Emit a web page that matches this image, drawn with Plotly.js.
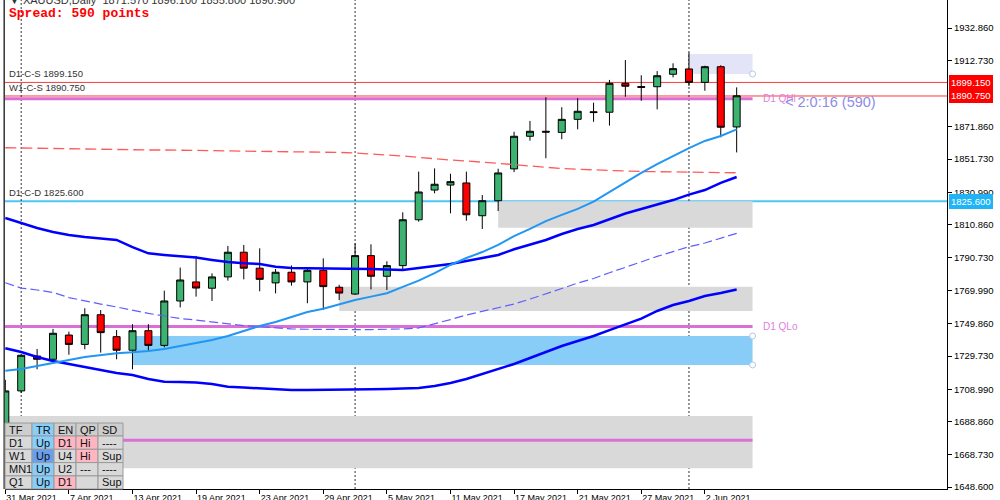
<!DOCTYPE html>
<html><head><meta charset="utf-8">
<script src="https://cdn.plot.ly/plotly-3.0.1.min.js"></script>
<style>html,body{margin:0;padding:0;background:#fff}#chart{width:1000px;height:500px}</style>
</head><body><div id="chart"></div>
<script>
// ---------- data ----------
const symbol = 'XAUUSD,Daily';
const spreadPoints = 590;
const timerText = '2:0:16 (590)';
const dates = ['2021-03-31','2021-04-01','2021-04-05','2021-04-06','2021-04-07','2021-04-08','2021-04-09','2021-04-12','2021-04-13','2021-04-14','2021-04-15','2021-04-16','2021-04-19','2021-04-20','2021-04-21','2021-04-22','2021-04-23','2021-04-26','2021-04-27','2021-04-28','2021-04-29','2021-04-30','2021-05-03','2021-05-04','2021-05-05','2021-05-06','2021-05-07','2021-05-10','2021-05-11','2021-05-12','2021-05-13','2021-05-14','2021-05-17','2021-05-18','2021-05-19','2021-05-20','2021-05-21','2021-05-24','2021-05-25','2021-05-26','2021-05-27','2021-05-28','2021-05-31','2021-06-01','2021-06-02','2021-06-03','2021-06-04'];
const open  = [1684.6,1708.1,1729.7,1727.7,1742.7,1736.9,1755.3,1741.7,1733.3,1745.4,1736.3,1763.8,1775.6,1771.7,1778.7,1794.0,1784.1,1775.0,1781.6,1775.6,1782.8,1772.3,1768.1,1791.9,1779.1,1785.7,1814.1,1832.5,1835.6,1836.9,1816.6,1825.9,1845.6,1865.8,1868.9,1868.2,1876.3,1881.0,1880.7,1898.6,1896.6,1896.5,1904.2,1907.5,1899.2,1908.9,1871.57];
const high  = [1715.0,1731.0,1734.1,1746.5,1744.8,1759.3,1758.2,1745.8,1749.4,1749.4,1770.2,1784.5,1791.7,1780.9,1797.9,1798.5,1796.4,1783.6,1785.8,1784.0,1790.2,1773.8,1799.5,1798.9,1788.4,1818.7,1843.9,1845.9,1842.6,1843.9,1829.4,1845.7,1868.6,1875.3,1890.0,1883.8,1889.4,1886.6,1900.7,1913.0,1903.6,1906.2,1911.0,1917.6,1909.5,1909.8,1896.1];
const low   = [1677.6,1706.8,1721.5,1727.0,1730.5,1733.9,1731.8,1727.7,1721.5,1733.1,1735.1,1759.8,1766.5,1763.8,1776.4,1777.2,1769.8,1768.5,1773.3,1762.4,1758.2,1764.4,1767.5,1771.0,1770.6,1783.0,1812.9,1830.5,1818.1,1813.5,1808.4,1819.5,1843.6,1863.1,1852.2,1864.0,1870.1,1874.8,1872.4,1890.3,1887.8,1882.5,1902.3,1897.0,1894.0,1865.2,1855.8];
const close = [1708.1,1730.2,1727.7,1743.8,1736.9,1755.3,1744.2,1733.3,1745.4,1736.3,1763.8,1776.8,1771.8,1778.7,1794.0,1784.1,1777.2,1781.6,1775.6,1782.8,1772.7,1768.7,1791.9,1779.1,1785.7,1814.1,1831.3,1836.1,1837.7,1817.2,1825.9,1843.1,1865.8,1868.9,1868.4,1876.3,1881.3,1880.5,1898.6,1896.8,1896.1,1903.3,1907.7,1899.2,1908.9,1871.4,1890.9];
const emaFast = [1720.6,1721.7,1723.5,1725.2,1727.3,1729.1,1730.4,1731.4,1732.0,1732.8,1734.1,1735.9,1737.6,1739.6,1742.1,1745.2,1748.3,1750.8,1753.9,1757.0,1759.0,1761.9,1764.4,1766.5,1768.6,1772.5,1776.4,1781.1,1786.1,1790.4,1794.1,1798.5,1804.0,1808.4,1813.3,1817.1,1820.8,1825.3,1831.3,1837.5,1843.1,1848.6,1853.6,1858.5,1862.9,1866.0,1870.1];
const bbUpper = [1815.2,1812.1,1809.0,1806.5,1804.6,1803.4,1802.5,1801.6,1797.2,1793.3,1792.3,1791.5,1790.7,1789.2,1787.9,1787.1,1786.7,1785.0,1784.2,1784.0,1784.0,1783.9,1783.6,1783.6,1783.3,1783.0,1784.2,1785.5,1786.7,1788.6,1790.4,1792.3,1795.8,1798.5,1801.6,1805.3,1808.4,1810.9,1814.3,1818.0,1820.8,1823.6,1826.3,1829.7,1832.5,1836.9,1840.6];
const bbMid = [1775.1,1771.8,1770.6,1769.1,1765.9,1763.8,1761.9,1760.1,1757.9,1756.1,1754.5,1752.9,1752.0,1750.8,1749.9,1748.6,1747.9,1747.1,1746.5,1746.3,1746.1,1746.1,1746.1,1746.1,1746.1,1746.5,1747.1,1749.6,1752.3,1755.1,1757.3,1759.5,1761.9,1765.0,1768.1,1771.5,1774.9,1777.7,1781.3,1784.8,1788.3,1791.4,1794.4,1797.4,1799.7,1802.8,1805.7];
const bbLower = [1734.5,1732.2,1729.1,1726.6,1724.8,1723.1,1721.1,1719.2,1717.9,1715.5,1713.8,1713.6,1713.3,1712.4,1710.7,1710.2,1709.7,1708.8,1708.7,1708.7,1708.7,1709.0,1709.1,1709.1,1709.3,1709.6,1709.9,1711.1,1713.0,1715.5,1718.6,1721.7,1724.8,1728.5,1732.2,1735.9,1739.0,1742.1,1745.8,1749.5,1752.9,1757.6,1761.3,1763.8,1766.9,1768.7,1770.9];
const maSlow = [1858.7,1858.5,1858.4,1858.2,1858.1,1858.0,1857.9,1857.6,1857.3,1857.3,1857.3,1857.2,1857.1,1856.9,1856.8,1856.7,1856.6,1856.4,1856.3,1856.2,1856.1,1855.8,1855.4,1854.9,1854.5,1853.6,1852.7,1851.7,1851.1,1850.5,1849.9,1849.3,1848.3,1847.4,1846.5,1845.8,1845.4,1844.9,1844.6,1844.3,1844.0,1843.8,1843.7,1843.6,1843.4,1843.3,1843.2];
const yTicks = [1932.860,1912.730,1871.860,1851.730,1830.990,1810.860,1790.730,1769.990,1749.860,1729.730,1708.990,1688.860,1668.730,1648.600];
// support / resistance levels
const levelNames  = ['D1-C-S','W1-C-S','D1-C-D'];
const levelPrices = [1899.150,1890.750,1825.600];
const quarterNames  = ['D1 QHi','D1 QLo',''];
const quarterPrices = [1889.0,1748.0,1677.6];
// zones: start date ('' = before chart), top, bottom
const zoneStarts  = ['2021-05-14','2021-04-30','2021-04-13','','2021-06-01'];
const zoneTops    = [1825.6,1772.6,1742.1,1692.5,1916.8];
const zoneBottoms = [1809.2,1757.6,1724.2,1660.2,1904.4];
// status table
const tableHeader = ['TF','TR','EN','QP','SD'];
const tableRows = [
  ['D1','Up','D1','Hi','----'],
  ['W1','Up','U4','Hi','Sup'],
  ['MN1','Up','U2','---','----'],
  ['Q1','Up','D1','','Sup']
];

// ---------- styles ----------
const FONT = 'Liberation Sans, Arial, sans-serif';
const zoneColors = ['#d9d9d9','#d9d9d9','#87cdf8','#d9d9d9','#e4e4f8'];
const levelColors = ['#ff3b3b','#ff3b3b','#4cc6f5'];
const levelLabelBg = ['#ff0000','#ff0000','#1fb4f5'];
const headerColors = ['#cdcdcd','#87cefa','#cdcdcd','#cdcdcd','#cdcdcd'];
const cellColors = [
  ['#d9d9d9','#87cefa','#ffb6c1','#ffb6c1','#d9d9d9'],
  ['#d9d9d9','#6a9ff0','#d9d9d9','#ffb6c1','#d9d9d9'],
  ['#d9d9d9','#87cefa','#d9d9d9','#d9d9d9','#d9d9d9'],
  ['#d9d9d9','#87cefa','#ffb6c1','#d9d9d9','#d9d9d9']
];
const colEdges = [5,32,54,76,98,123];
const rowEdges = [423,436,449.3,462.6,475.9,489];

const W = 1000, H = 500, M = {l:5, r:53, t:0, b:11};
const PW = W - M.l - M.r, PH = H - M.t - M.b;
const px = x => (x - M.l) / PW;
const py = y => (H - M.b - y) / PH;

// ---------- derived ----------
const N = dates.length;
const idx = dates.map((d, i) => i);
const MONTHS = ['Jan','Feb','Mar','Apr','May','Jun','Jul','Aug','Sep','Oct','Nov','Dec'];
const fmtDate = d => { const p = d.split('-'); return (+p[2]) + ' ' + MONTHS[+p[1]-1] + ' ' + p[0]; };
const tickIdx = idx.filter(i => i % 4 === 0);
const monthStarts = idx.filter(i => i > 0 && dates[i].slice(5,7) !== dates[i-1].slice(5,7));
const last = N - 1;

const lineTrace = (y, color, width, dash) => ({
  type:'scatter', mode:'lines', x: idx, y: y,
  line:{color:color, width:width, dash: dash || 'solid'}, hoverinfo:'skip'
});

const traces = [
  lineTrace(maSlow, '#ff5a5a', 1.3, '11px,5px'),
  lineTrace(bbMid, '#5f5fff', 1.2, '9px,4px'),
  lineTrace(bbUpper, '#0000ff', 2.5),
  lineTrace(bbLower, '#0000ff', 2.5),
  lineTrace(emaFast, '#2196f3', 2),
  {
    type:'candlestick', x: idx, open: open, high: high, low: low, close: close,
    increasing:{line:{color:'#000', width:1}, fillcolor:'#3cb371'},
    decreasing:{line:{color:'#000', width:1}, fillcolor:'#ff0000'},
    whiskerwidth: 0, hoverinfo:'skip'
  }
];

const shapes = [];
const annotations = [];

// zones
zoneStarts.forEach((s, k) => {
  shapes.push({type:'rect', xref:'x', yref:'y', layer:'below',
    x0: s ? dates.indexOf(s) : -2, x1: N, y0: zoneBottoms[k], y1: zoneTops[k],
    fillcolor: zoneColors[k], line:{width:0}});
});
// quarter lines (magenta)
quarterPrices.forEach((p, k) => {
  shapes.push({type:'line', xref:'x', yref:'y', layer:'below', x0:-2, x1:N, y0:p, y1:p,
    line:{color:'#da70d6', width:3}});
  if (quarterNames[k]) annotations.push({xref:'x', yref:'y', x:N, y:p, xanchor:'left', yanchor:'middle',
    xshift:8, text:quarterNames[k], showarrow:false, font:{family:FONT, size:10, color:'#dd80dd'}});
});
// level lines
levelPrices.forEach((p, k) => {
  shapes.push({type:'line', xref:'paper', yref:'y', layer:'below', x0:0, x1:1, y0:p, y1:p,
    line:{color:levelColors[k], width: k===2 ? 2 : 1}});
  annotations.push({xref:'paper', yref:'y', x:px(7), y:p, xanchor:'left', yanchor:'bottom', yshift:1,
    text: levelNames[k] + ' ' + p.toFixed(3), showarrow:false, font:{family:FONT, size:9.5, color:'#333'}});
  annotations.push({xref:'paper', yref:'y', x:px(949), y:p, xanchor:'left', yanchor:'middle',
    text: p.toFixed(3), showarrow:false, bgcolor:levelLabelBg[k], bordercolor:levelLabelBg[k], borderpad:1,
    font:{family:FONT, size:9.5, color:'#fff'}});
});
// month separators
monthStarts.forEach(i => {
  shapes.push({type:'line', xref:'x', yref:'paper', layer:'below', x0:i, x1:i, y0:0, y1:1,
    line:{color:'#333', width:1, dash:'2px,2px'}});
});
// anchor circles of drawn objects
[[N, zoneTops[2]],[N, zoneBottoms[2]],[N, zoneBottoms[4]]].forEach(c => {
  shapes.push({type:'circle', xref:'x', yref:'y', xsizemode:'pixel', ysizemode:'pixel',
    xanchor:c[0], yanchor:c[1], x0:-3, x1:3, y0:-3, y1:3, layer:'above',
    fillcolor:'#fff', line:{color:'#b5c8e6', width:1}});
});
// left chart border
shapes.push({type:'line', xref:'paper', yref:'paper', x0:px(4.2), x1:px(4.2), y0:0, y1:1.02,
  line:{color:'#333', width:1.5}, layer:'above'});

// table
[tableHeader].concat(tableRows).forEach((row, r) => {
  row.forEach((txt, c) => {
    const fill = r === 0 ? headerColors[c] : cellColors[r-1][c];
    shapes.push({type:'rect', xref:'paper', yref:'paper', layer:'above',
      x0:px(colEdges[c]), x1:px(colEdges[c+1]), y0:py(rowEdges[r+1]), y1:py(rowEdges[r]),
      fillcolor:fill, line:{color:'#9a9a9a', width:1}});
    if (txt) annotations.push({xref:'paper', yref:'paper', x:px(colEdges[c]+2), y:py((rowEdges[r]+rowEdges[r+1])/2),
      xanchor:'left', yanchor:'middle', text:txt, showarrow:false, font:{family:FONT, size:11, color:'#111'}});
  });
});

// header texts
annotations.push({xref:'paper', yref:'paper', x:px(7), y:py(0), xanchor:'left', yanchor:'middle', showarrow:false,
  text:'▼ ' + symbol + '  ' + [open[last],high[last],low[last],close[last]].map(v => v.toFixed(3)).join(' '),
  font:{family:FONT, size:11, color:'#333'}});
annotations.push({xref:'paper', yref:'paper', x:px(7), y:py(14), xanchor:'left', yanchor:'middle', showarrow:false,
  text:'<b>Spread: ' + spreadPoints + ' points</b>', font:{family:'Liberation Mono, Courier New, monospace', size:13, color:'#ff0000'}});
annotations.push({xref:'x', yref:'y', x:N, y:close[last], xanchor:'left', yanchor:'middle', xshift:30, yshift:-6, showarrow:false,
  text:'&lt; ' + timerText, font:{family:FONT, size:14.5, color:'#8c8ce8'}});

const layout = {
  width:W, height:H, margin:M, paper_bgcolor:'#fff', plot_bgcolor:'#fff', showlegend:false,
  boxgap:0.37,
  xaxis:{range:[-0.019, 59.23], tickvals:tickIdx, ticktext:tickIdx.map(i => fmtDate(dates[i])),
    showgrid:false, zeroline:false, showline:true, linecolor:'#000', linewidth:1,
    ticks:'outside', ticklen:4, tickcolor:'#000', ticklabelposition:'outside right',
    tickfont:{family:FONT, size:9, color:'#000'}, rangeslider:{visible:false}, fixedrange:true},
  yaxis:{range:[1647.36, 1950.2], side:'right', tickvals:yTicks, tickformat:'.3f',
    showgrid:false, zeroline:false, showline:true, linecolor:'#000', linewidth:1,
    ticks:'outside', ticklen:4, tickcolor:'#000', tickfont:{family:FONT, size:9.5, color:'#000'}, fixedrange:true},
  shapes:shapes, annotations:annotations
};
Plotly.newPlot('chart', traces, layout, {staticPlot:true, displayModeBar:false});
</script></body></html>
